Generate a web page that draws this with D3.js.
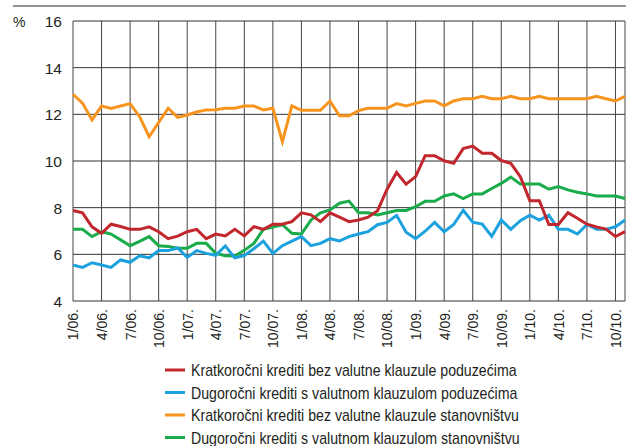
<!DOCTYPE html>
<html>
<head>
<meta charset="utf-8">
<script src="https://cdn.jsdelivr.net/npm/d3@7"></script>
<style>
  body { margin: 0; background: #fff; }
  text { font-family: "Liberation Sans", Arial, sans-serif; fill: #231f20; }
</style>
</head>
<body>
<div id="chart"></div>
<script>
// Months 1/06. .. 11/10. (index 0..58)
const monthCount = 59;
const xTickMonths = [0, 3, 6, 9, 12, 15, 18, 21, 24, 27, 30, 33, 36, 39, 42, 45, 48, 51, 54, 57];
const xTickLabels = ['1/06.', '4/06.', '7/06.', '10/06.', '1/07.', '4/07.', '7/07.', '10/07.', '1/08.', '4/08.',
                     '7/08.', '10/08.', '1/09.', '4/09.', '7/09.', '10/09.', '1/10.', '4/10.', '7/10.', '10/10.'];
const yTicks = [4, 6, 8, 10, 12, 14, 16];

const seriesNames = [
  'Kratkoročni krediti bez valutne klauzule poduzećima',
  'Dugoročni krediti s valutnom klauzulom poduzećima',
  'Kratkoročni krediti bez valutne klauzule stanovništvu',
  'Dugoročni krediti s valutnom klauzulom stanovništvu'
];
const seriesColors = ['#c1272d', '#1ba1dd', '#f7941d', '#1aab4b'];

const shortNoClauseCorp = [7.88, 7.78, 7.18, 6.9, 7.29, 7.19, 7.07, 7.07, 7.18, 6.97,
  6.67, 6.78, 6.97, 7.07, 6.67, 6.87, 6.79, 7.07, 6.79, 7.19,
  7.07, 7.29, 7.29, 7.4, 7.78, 7.69, 7.4, 7.78, 7.59, 7.4,
  7.47, 7.59, 7.87, 8.79, 9.51, 9.01, 9.33, 10.23, 10.23, 10.01,
  9.9, 10.53, 10.64, 10.33, 10.33, 10.02, 9.9, 9.33, 8.3, 8.3,
  7.28, 7.28, 7.78, 7.55, 7.29, 7.17, 7.08, 6.76, 6.97];

const longClauseCorp = [5.54, 5.44, 5.64, 5.54, 5.44, 5.76, 5.66, 5.94, 5.85, 6.16,
  6.16, 6.27, 5.87, 6.16, 6.04, 5.96, 6.36, 5.85, 5.95, 6.24,
  6.57, 6.04, 6.37, 6.57, 6.76, 6.37, 6.47, 6.67, 6.57, 6.76,
  6.87, 6.97, 7.27, 7.37, 7.67, 6.95, 6.67, 6.99, 7.37, 6.97,
  7.28, 7.89, 7.38, 7.3, 6.77, 7.47, 7.07, 7.44, 7.68, 7.47,
  7.68, 7.07, 7.07, 6.87, 7.28, 7.07, 7.07, 7.18, 7.47];

const shortNoClauseHouse = [12.86, 12.48, 11.76, 12.36, 12.25, 12.36, 12.46, 11.9, 11.04, 11.65,
  12.26, 11.87, 11.97, 12.1, 12.19, 12.2, 12.26, 12.26, 12.36, 12.36,
  12.19, 12.26, 10.83, 12.36, 12.17, 12.17, 12.17, 12.57, 11.94, 11.94,
  12.16, 12.26, 12.26, 12.26, 12.46, 12.36, 12.47, 12.57, 12.57, 12.36,
  12.57, 12.67, 12.67, 12.77, 12.67, 12.67, 12.77, 12.67, 12.67, 12.77,
  12.67, 12.67, 12.67, 12.67, 12.67, 12.77, 12.67, 12.57, 12.77];

const longClauseHouse = [7.07, 7.07, 6.76, 6.97, 6.87, 6.62, 6.37, 6.56, 6.76, 6.37,
  6.34, 6.26, 6.26, 6.47, 6.47, 6.04, 5.94, 5.93, 6.17, 6.47,
  7.07, 7.17, 7.27, 6.9, 6.87, 7.47, 7.78, 7.9, 8.19, 8.28,
  7.78, 7.78, 7.69, 7.78, 7.88, 7.88, 8.04, 8.27, 8.27, 8.5,
  8.59, 8.39, 8.59, 8.59, 8.82, 9.04, 9.31, 9.01, 9.01, 9.01,
  8.79, 8.9, 8.76, 8.66, 8.59, 8.5, 8.5, 8.5, 8.39];

// draw order: orange, green, blue, red on top
const seriesValues = [shortNoClauseCorp, longClauseCorp, shortNoClauseHouse, longClauseHouse];
const drawOrder = [2, 3, 1, 0];

const W = 635, H = 446;
const plot = { left: 73, right: 625, top: 21, bottom: 301 };

const svg = d3.select('#chart').append('svg')
  .attr('width', W).attr('height', H);

const x = d3.scaleLinear().domain([0, monthCount - 1]).range([plot.left, plot.right]);
const y = d3.scaleLinear().domain([4, 16]).range([plot.bottom, plot.top]);

// top rule
svg.append('line')
  .attr('x1', 13).attr('x2', 626).attr('y1', 6).attr('y2', 6)
  .attr('stroke', '#6f6f6f').attr('stroke-width', 1.5);

// grid
const grid = svg.append('g');
grid.selectAll('line.h').data(yTicks).enter().append('line')
  .attr('x1', plot.left).attr('x2', plot.right)
  .attr('y1', d => y(d)).attr('y2', d => y(d))
  .attr('stroke', '#333').attr('stroke-width', 1);
grid.selectAll('line.v').data(xTickMonths.concat([monthCount - 1])).enter().append('line')
  .attr('x1', d => x(d)).attr('x2', d => x(d))
  .attr('y1', plot.top).attr('y2', plot.bottom)
  .attr('stroke', '#444').attr('stroke-width', 1);

// y axis labels
const yAxis = d3.axisLeft(y).tickValues(yTicks).tickSize(0).tickPadding(11);
const yNode = svg.append('g').attr('transform', 'translate(' + plot.left + ',0)').call(yAxis);
yNode.select('.domain').remove();
yNode.selectAll('text').style('font-size', '15.5px').attr('font-family', null).attr('dy', '0.36em');

svg.append('text').attr('x', 13).attr('y', 27).style('font-size', '14px').text('%');

// x axis labels
const xAxis = d3.axisBottom(x).tickValues(xTickMonths)
  .tickFormat((d, i) => xTickLabels[i]).tickSize(0);
const xNode = svg.append('g').attr('transform', 'translate(0,' + plot.bottom + ')').call(xAxis);
xNode.select('.domain').remove();
xNode.selectAll('text')
  .style('font-size', '14px')
  .attr('font-family', null)
  .attr('text-anchor', 'end')
  .attr('transform', 'rotate(-90)')
  .attr('x', -8).attr('y', 0).attr('dy', '0.35em');

// lines
const line = d3.line().x((d, i) => x(i)).y(d => y(d));
svg.selectAll('path.series').data(drawOrder).enter().append('path')
  .attr('class', 'series')
  .attr('d', k => line(seriesValues[k]))
  .attr('fill', 'none')
  .attr('stroke', k => seriesColors[k])
  .attr('stroke-width', 3)
  .attr('stroke-linejoin', 'miter');

// legend (condensed type, like the original)
const legend = svg.append('g').attr('transform', 'translate(165,370)');
const rows = legend.selectAll('g').data(seriesNames).enter().append('g')
  .attr('transform', (d, i) => 'translate(0,' + (i * 22.5) + ')');
rows.append('line').attr('x1', 0).attr('x2', 20).attr('y1', 0).attr('y2', 0)
  .attr('stroke', (d, i) => seriesColors[i]).attr('stroke-width', 3);
rows.append('text')
  .attr('transform', 'translate(26,6) scale(0.885,1)')
  .style('font-size', '16px').text(d => d);
</script>
</body>
</html>
